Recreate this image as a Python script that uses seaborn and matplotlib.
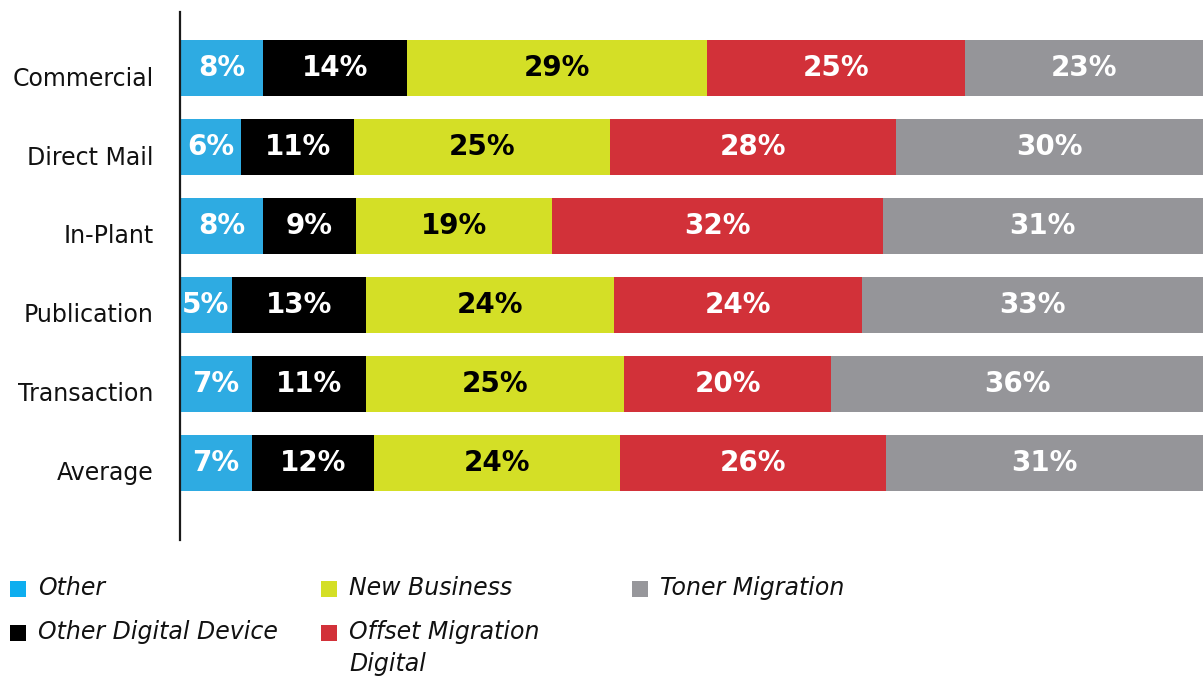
import numpy as np
import pandas as pd
import matplotlib
matplotlib.use("Agg")
import matplotlib.pyplot as plt
from matplotlib.patches import Rectangle
import matplotlib.transforms as mtransforms
import seaborn as sns

# Segment shares (%) per print segment
categories = ["Commercial", "Direct Mail", "In-Plant", "Publication", "Transaction", "Average"]
series = ["Other", "Other Digital Device", "New Business", "Offset Migration\nDigital", "Toner Migration"]
other = [8, 6, 8, 5, 7, 7]
other_digital = [14, 11, 9, 13, 11, 12]
new_business = [29, 25, 19, 24, 25, 24]
offset_migration = [25, 28, 32, 24, 20, 26]
toner_migration = [23, 30, 31, 33, 36, 31]

bar_colors = ["#2EABE2", "#000000", "#D4DF26", "#D23139", "#959599"]
legend_colors = ["#0EAEEF", "#000000", "#D4DF26", "#D23139", "#97979B"]
label_colors = ["white", "white", "black", "white", "white"]

sns.set_theme(style="white")
plt.rcParams["font.family"] = ["DejaVu Sans"]

df = pd.DataFrame(
    {s: v for s, v in zip(series, [other, other_digital, new_business,
                                   offset_migration, toner_migration])},
    index=categories,
)
# each row is drawn as a full 100% bar
shares = df.div(df.sum(axis=1), axis=0) * 100
cum = shares.cumsum(axis=1)

fig = plt.figure(figsize=(12.03, 6.77), dpi=100)
ax = fig.add_axes([180 / 1203, 1 - 540 / 677, 1 - 180 / 1203, (540 - 12) / 677])

# stacked bars: draw cumulative totals from the outermost segment inward
for s, c in reversed(list(zip(series, bar_colors))):
    sns.barplot(x=cum[s].values, y=categories, orient="h", color=c,
                saturation=1, width=0.72, linewidth=0, ax=ax)

for j, s in enumerate(series):
    starts = cum[s] - shares[s]
    for i, cat in enumerate(categories):
        ax.text(starts.iloc[i] + shares[s].iloc[i] / 2, i, f"{df[s].iloc[i]}%",
                ha="center", va="center", color=label_colors[j],
                fontsize=20, fontweight="bold")

ax.set_xlim(0, 100)
ax.set_ylim(5.975, -0.709)
ax.set_xlabel("")
ax.set_ylabel("")
ax.set_xticks([])
for side in ["top", "right", "bottom"]:
    ax.spines[side].set_visible(False)
ax.spines["left"].set_linewidth(1.6)
ax.spines["left"].set_color("#1a1a1a")

ax.tick_params(axis="y", length=0, pad=19, labelsize=17, labelcolor="#111111")
shift = mtransforms.ScaledTranslation(0, -0.08, fig.dpi_scale_trans)
for lbl in ax.get_yticklabels():
    lbl.set_transform(lbl.get_transform() + shift)

# legend laid out in three fixed-width columns
W, H = 1203, 677
for k, (name, c) in enumerate(zip(series, legend_colors)):
    col, row = divmod(k, 2)
    x0 = 10 + col * 311
    yc = 589 + row * 44
    fig.add_artist(Rectangle((x0 / W, 1 - (yc + 8) / H), 16 / W, 16 / H,
                             transform=fig.transFigure, facecolor=c,
                             edgecolor="none"))
    fig.text((x0 + 28) / W, 1 - (yc - 13) / H, name, ha="left", va="top",
             fontsize=17, fontstyle="italic", color="#111111",
             linespacing=1.4)

fig.savefig("out.png", dpi=100)
